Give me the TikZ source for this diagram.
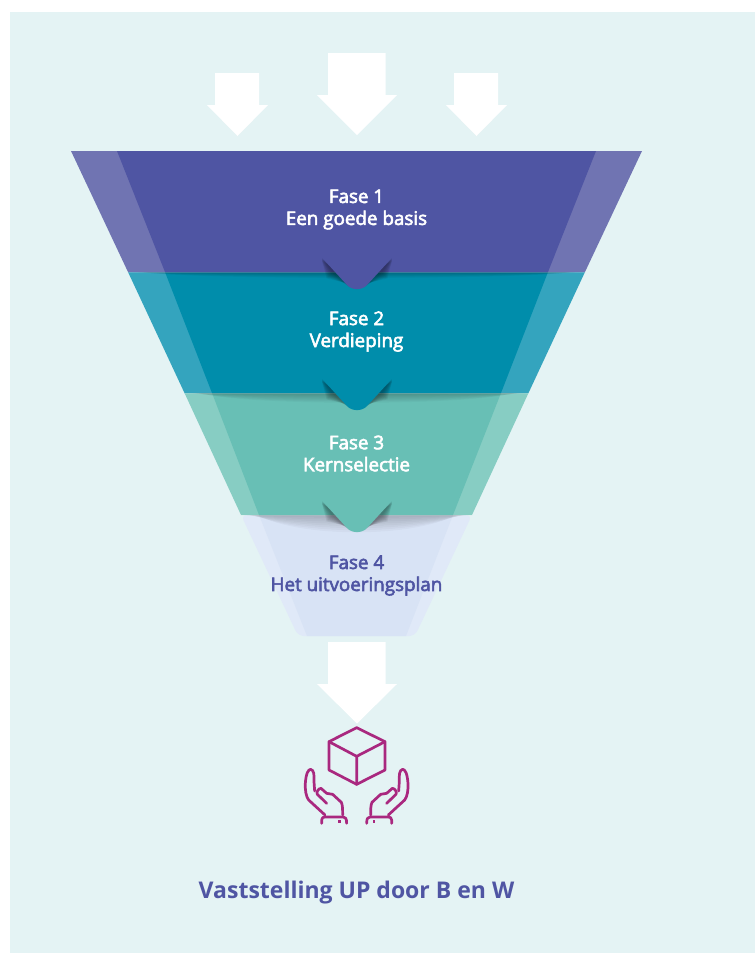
\documentclass[tikz,border=0pt]{standalone}
\usepackage{fontspec}
\setmainfont{Open Sans}
\newfontface\semib{Open Sans}[RawFeature={embolden=3}]
\definecolor{bgc}{HTML}{E4F3F4}
\definecolor{aI}{HTML}{4F55A3}\definecolor{aO}{HTML}{7074B2}
\definecolor{bI}{HTML}{008DAB}\definecolor{bO}{HTML}{34A4BE}
\definecolor{cI}{HTML}{68BFB5}\definecolor{cO}{HTML}{87CDC3}
\definecolor{dI}{HTML}{D8E3F5}\definecolor{dO}{HTML}{E0E9F8}
\definecolor{icon}{HTML}{A9287F}
\tikzset{
 whitearrow/.style={fill=white,draw=none},
 phase/.style={font=\semib\fontsize{18.8}{22}\selectfont,align=center,text=white},
 iconline/.style={draw=icon,line width=2.7pt,line join=round,line cap=round},
}
\begin{document}
\begin{tikzpicture}[x=1pt,y=-1pt]
\useasboundingbox (0,0) rectangle (755,954);
\fill[white] (0,0) rectangle (755,954);
\fill[bgc] (10,12) rectangle (755,953);
% arrows
\fill[whitearrow] (215,73) -- (259,73) -- (259,105) -- (268,105) -- (237.5,136) -- (207,105) -- (215,105) -- cycle;
\fill[whitearrow] (328,53) -- (385.5,53) -- (385.5,95) -- (397,95) -- (357,135) -- (317,95) -- (328,95) -- cycle;
\fill[whitearrow] (454,73) -- (498,73) -- (498,105) -- (507,105) -- (476.5,136) -- (446,105) -- (454,105) -- cycle;
\fill[whitearrow] (328,642) -- (385.5,642) -- (385.5,684) -- (397,684) -- (357,723.5) -- (317,684) -- (328,684) -- cycle;
% band 4
\fill[dO,rounded corners=6pt] (241,515) -- (298,636) -- (415,636) -- (472,515) -- cycle;
\fill[dI] (259,515) -- (307,636) -- (406,636) -- (453,515) -- cycle;
% band 3
\fill[cO] (184.5,393) -- (241,515) -- (472,515) -- (528.5,393) -- cycle;
\fill[cI] (212,393) -- (259,515) -- (453,515) -- (501,393) -- cycle;
% band 2
\fill[bO] (128,272) -- (184.5,393) -- (528.5,393) -- (585,272) -- cycle;
\fill[bI] (165,272) -- (212,393) -- (501,393) -- (548,272) -- cycle;
% band 1
\fill[aO] (71,151) -- (128,272) -- (585,272) -- (642,151) -- cycle;
\fill[aI] (117,151) -- (165,272) -- (548,272) -- (596,151) -- cycle;
% shadows under edges
\foreach \y/\xa/\xb/\h in {272/128/585/7,393/184.5/528.5/12,515/241/472/22}{
 \foreach \i in {1,...,8}{
  \fill[black,opacity=.026] (\xa+\i*2,\y) .. controls (\xa+60,\y+\h*\i/8+1) and (\xb-60,\y+\h*\i/8+1) .. (\xb-\i*2,\y) -- cycle;
 }
 \draw[white,opacity=.18,line width=.8pt] (\xa,\y) -- (\xb,\y);
}
% tabs with wedges
\foreach \y/\c in {272/aI,393/bI,515/cI}{
 \foreach \i in {1,...,8}{
  \fill[black,opacity=.05] (322,\y-14.5+\i*.4) -- (333-\i*.8,\y+\i*.8) -- (349-\i*.3,\y+15-\i*.5) -- (352,\y+10) -- cycle;
  \fill[black,opacity=.05] (392,\y-14.5+\i*.4) -- (381+\i*.8,\y+\i*.8) -- (365+\i*.3,\y+15-\i*.5) -- (362,\y+10) -- cycle;
 }
 \fill[\c] (320,\y-16.5) -- (347,\y+13) .. controls (352,\y+18.5) and (362,\y+18.5) .. (367,\y+13) -- (394,\y-16.5) -- cycle;
}
% labels
\node[phase] (f1) at (356.5,209.5) {Fase 1\\Een goede basis};
\node[phase] (f2) at (356.5,331.5) {Fase 2\\Verdieping};
\node[phase] (f3) at (356.5,453.5) {Fase 3\\Kernselectie};
\node[phase,text=aI] (f4) at (356.5,575.5) {Fase 4\\Het uitvoeringsplan};
\node[font=\bfseries\fontsize{23}{28}\selectfont,text=aI] (title) at (356.5,892.5) {Vaststelling UP door B en W};
% icon
\begin{scope}[shift={(290,715)},x=0.3333pt,y=-0.3333pt]
 \draw[iconline] (200,38) -- (285,80) -- (285,165) -- (200,208) -- (117,165) -- (117,80) -- cycle;
 \draw[iconline] (117,80) -- (200,124) -- (285,80) (200,124) -- (200,208);
 \foreach \m/\o in {1/0,-1/400}{
 \begin{scope}[shift={(\o,0)},x=\m*0.3333pt]
  \draw[iconline] (105,300) -- (56,255) .. controls (48,245) and (45,225) .. (46,205) .. controls (48,175) and (55,163) .. (62,163) .. controls (72,165) and (73,180) .. (72,200) -- (74,228);
  \draw[iconline] (110,265) -- (82,238) .. controls (78,232) and (85,220) .. (93,220) -- (110,235) -- (128,238) -- (154,262) .. controls (158,270) and (158,285) .. (158,300);
  \draw[iconline] (95,325) -- (95,315) .. controls (95,308) and (100,306) .. (105,306) -- (160,306) .. controls (166,306) and (170,310) .. (170,325);
  \fill[icon] (144,315) rectangle (152,323);
 \end{scope}
 }
\end{scope}
\end{tikzpicture}
\end{document}
